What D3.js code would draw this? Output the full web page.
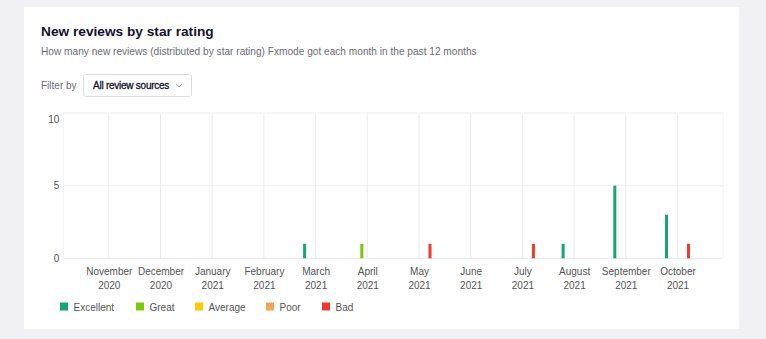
<!DOCTYPE html>
<html>
<head>
<meta charset="utf-8">
<script src="https://cdn.jsdelivr.net/npm/d3@7"></script>
<style>
  html, body { margin: 0; padding: 0; background: #f0f0f5; }
  svg { display: block; font-family: "Liberation Sans", Arial, sans-serif; }
</style>
</head>
<body>
<svg id="chart" width="766" height="339"></svg>
<script>
const months = ["November 2020","December 2020","January 2021","February 2021","March 2021","April 2021","May 2021","June 2021","July 2021","August 2021","September 2021","October 2021"];
const seriesNames = ["Excellent","Great","Average","Poor","Bad"];
const seriesColors = ["#17a673","#7ac70c","#fcc800","#f2a65a","#ee3a2c"];
const excellent = [0,0,0,0,1,0,0,0,0,1,5,3];
const great     = [0,0,0,0,0,1,0,0,0,0,0,0];
const average   = [0,0,0,0,0,0,0,0,0,0,0,0];
const poor      = [0,0,0,0,0,0,0,0,0,0,0,0];
const bad       = [0,0,0,0,0,0,1,0,1,0,0,1];
const yTicks = [0,5,10];

const seriesValues = [excellent, great, average, poor, bad];

(function() {
const svg = d3.select("#chart");

// card
svg.append("rect").attr("x",24).attr("y",7).attr("width",715).attr("height",322).attr("fill","#ffffff");

svg.append("text").attr("x",41).attr("y",36).attr("font-size",13.7).attr("font-weight","bold")
  .attr("fill","#14112e").text("New reviews by star rating");
svg.append("text").attr("x",41).attr("y",55).attr("font-size",10.15).attr("fill","#6b6b76")
  .text("How many new reviews (distributed by star rating) Fxmode got each month in the past 12 months");
svg.append("text").attr("x",41).attr("y",89).attr("font-size",10).attr("fill","#6b6b76").text("Filter by");
svg.append("rect").attr("x",83.5).attr("y",74.5).attr("width",108).attr("height",22).attr("rx",2)
  .attr("fill","#fff").attr("stroke","#dcdce4");
svg.append("text").attr("x",93).attr("y",89).attr("font-size",10).attr("fill","#14112e").attr("letter-spacing","-0.25")
  .attr("stroke","#14112e").attr("stroke-width",0.3)
  .text("All review sources");
svg.append("path").attr("d","M176,84 L179,87 L182,84").attr("fill","none").attr("stroke","#888").attr("stroke-width",0.8);

// scales
const pLeft = 63.3, pRight = 723, pTop = 113, pBottom = 258.3;
const x = d3.scalePoint().domain(months).range([pLeft, pRight]).padding(0.88);
const sub = d3.scalePoint().domain(seriesNames).range([-11, 11]);
const y = d3.scaleLinear().domain([0,10]).range([pBottom, pTop]);

const g = svg.append("g");

// vertical gridlines
g.selectAll("line.vg").data(months).join("line")
  .attr("x1", d => x(d)).attr("x2", d => x(d)).attr("y1", pTop).attr("y2", pBottom)
  .attr("stroke","#ececf0").attr("stroke-width",1);
[pLeft, pRight].forEach(v => g.append("line").attr("x1",v).attr("x2",v).attr("y1",pTop).attr("y2",pBottom)
  .attr("stroke","#f3f3f6"));

// horizontal gridlines
g.selectAll("line.hg").data(yTicks).join("line")
  .attr("x1", pLeft).attr("x2", pRight).attr("y1", d => y(d)).attr("y2", d => y(d))
  .attr("stroke", d => d === 0 ? "#e6e6ea" : "#efeff3");

// y axis labels
const yAxis = d3.axisLeft(y).tickValues(yTicks).tickSize(0).tickPadding(0);
const yg = svg.append("g").attr("transform", `translate(${pLeft - 4},0)`).call(yAxis);
yg.select(".domain").remove();
yg.selectAll("text").attr("font-size",10).attr("fill","#555").attr("font-family","Liberation Sans, Arial, sans-serif")
  .attr("dy", d => d === 10 ? "0.95em" : "0.32em").attr("dx", 0);

// x axis labels (two lines)
const xAxis = d3.axisBottom(x).tickSize(0).tickPadding(0).tickFormat("");
const xg = svg.append("g").attr("transform", `translate(0,${pBottom})`).call(xAxis);
xg.select(".domain").remove();
xg.selectAll(".tick").each(function(d) {
  const parts = d.split(" ");
  const t = d3.select(this).append("text").attr("font-size",10).attr("fill","#555")
    .attr("text-anchor","middle").attr("font-family","Liberation Sans, Arial, sans-serif");
  t.append("tspan").attr("x",0).attr("y",17).text(parts[0]);
  t.append("tspan").attr("x",0).attr("y",30.5).text(parts[1]);
});

// bars
seriesNames.forEach((s, si) => {
  const data = months.map((m, i) => ({m, v: seriesValues[si][i]})).filter(d => d.v > 0);
  g.selectAll(null).data(data).join("rect")
    .attr("x", d => x(d.m) + sub(s) - 1.5)
    .attr("width", 3)
    .attr("y", d => y(d.v))
    .attr("height", d => y(0) - y(d.v))
    .attr("fill", seriesColors[si]);
});

// legend
const legendX = [60, 136, 195, 266, 322];
const lg = svg.append("g");
seriesNames.forEach((s, i) => {
  lg.append("rect").attr("x", legendX[i]).attr("y", 302.5).attr("width", 8).attr("height", 8).attr("fill", seriesColors[i]);
  lg.append("text").attr("x", legendX[i] + 13.5).attr("y", 310.5).attr("font-size", 10).attr("fill","#555").text(s);
});
})();
</script>
</body>
</html>
